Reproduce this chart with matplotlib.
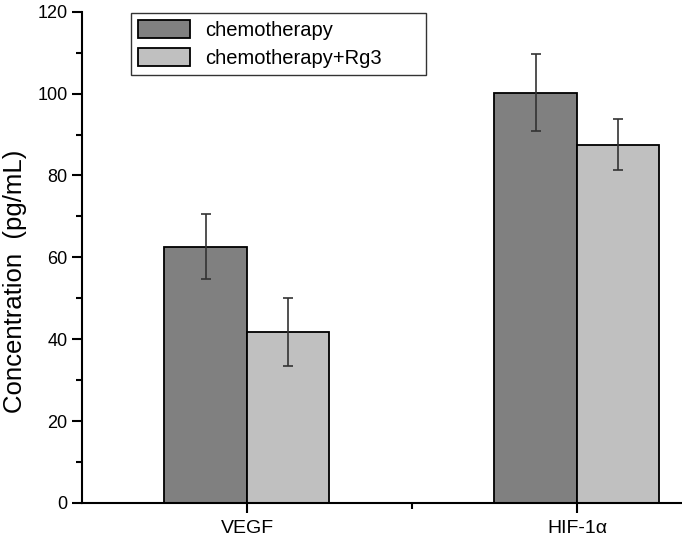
import matplotlib.pyplot as plt
import numpy as np
from matplotlib.ticker import MultipleLocator, FixedLocator

plt.rcParams['font.family'] = ['Liberation Sans', 'DejaVu Sans']

categories = ["VEGF", "HIF-1α"]
series_names = ["chemotherapy", "chemotherapy+Rg3"]
chemo = [62.6, 100.2]
chemo_err = [7.9, 9.4]
chemo_rg3 = [41.7, 87.5]
chemo_rg3_err = [8.3, 6.2]

fig = plt.figure(figsize=(6.82, 5.39), dpi=100)
ax = fig.add_axes([0.1202, 0.0668, 660 / 682, 0.9115])

x = np.arange(len(categories))
w = 0.25
err_kw = dict(ecolor="#333333", elinewidth=1.2, capsize=3.5, capthick=1.2)
ax.bar(x - w / 2, chemo, w, yerr=chemo_err, color="#808080", edgecolor="black",
       linewidth=1.3, label=series_names[0], error_kw=err_kw)
ax.bar(x + w / 2, chemo_rg3, w, yerr=chemo_rg3_err, color="#c0c0c0", edgecolor="black",
       linewidth=1.3, label=series_names[1], error_kw=err_kw)

ax.set_xlim(-0.5, 1.5)
ax.set_ylim(0, 120)
ax.set_xticks(x)
ax.set_xticklabels(categories)
ax.xaxis.set_minor_locator(FixedLocator([0.5]))
ax.yaxis.set_major_locator(MultipleLocator(20))
ax.yaxis.set_minor_locator(MultipleLocator(10))
ax.tick_params(axis="both", which="major", direction="out", length=7, width=1.5)
ax.tick_params(axis="both", which="minor", direction="out", length=4, width=1.5)
ax.tick_params(axis="y", labelsize=13)
ax.tick_params(axis="x", which="major", labelsize=14, pad=5)

for s in ["top", "right"]:
    ax.spines[s].set_visible(False)
for s in ["left", "bottom"]:
    ax.spines[s].set_linewidth(1.5)

ax.set_ylabel("Concentration  (pg/mL)", fontsize=18.5)
ax.yaxis.set_label_coords(-0.083, 0.452)

leg = ax.legend(loc="upper left", bbox_to_anchor=(0.074, 0.1, 0.447, 0.897),
                mode="expand", fontsize=14.5,
                fancybox=False, edgecolor="#333333", framealpha=1,
                handlelength=2.6, handleheight=1.0, borderpad=0.35,
                labelspacing=0.4, handletextpad=0.75, borderaxespad=0)
leg.get_frame().set_linewidth(1.0)

plt.savefig("out.png", dpi=100)
